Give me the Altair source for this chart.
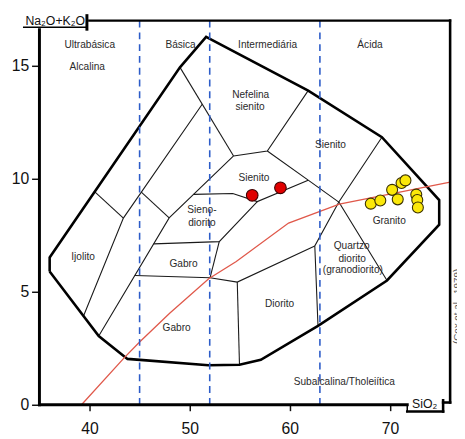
import altair as alt
import pandas as pd

FONT = "Liberation Sans"

x_ticks = [40, 50, 60, 70]
y_ticks = [0, 5, 10, 15]

# Outer (thick) boundary of the TAS field
outer_x = [36.02, 36.02, 49.03, 51.64, 61.83, 69.19, 74.91, 74.91, 69.70, 62.81, 57.10, 54.97, 51.87, 43.79, 40.92, 36.02]
outer_y = [5.90, 6.52, 14.93, 16.28, 13.90, 11.84, 9.06, 7.97, 5.50, 3.49, 1.99, 1.77, 1.75, 2.03, 3.04, 5.90]

# Internal field boundaries (polylines)
seg_x = [
    [40.53, 43.38],
    [39.40, 43.38, 51.25],
    [45.17, 47.95],
    [40.92, 47.95, 54.38],
    [49.03, 54.38],
    [54.38, 57.75, 61.83],
    [57.75, 61.83, 64.89],
    [69.19, 64.89, 69.70],
    [64.89, 62.49, 62.81],
    [50.40, 54.30, 56.75, 61.83],
    [46.40, 52.95, 56.75],
    [52.95, 52.03],
    [44.52, 52.03, 54.75, 62.49],
    [54.75, 54.97],
]
seg_y = [
    [9.42, 8.26],
    [3.93, 8.26, 13.30],
    [9.41, 8.27],
    [3.04, 8.27, 11.01],
    [14.93, 11.01],
    [11.01, 11.23, 13.90],
    [11.23, 9.94, 8.97],
    [11.84, 8.97, 5.50],
    [8.97, 7.03, 3.49],
    [9.31, 9.35, 8.99, 9.94],
    [7.12, 7.22, 8.99],
    [7.22, 5.62],
    [5.72, 5.62, 5.43, 7.03],
    [5.43, 1.77],
]

# Alkaline / subalkaline divide (red)
red_x = [39.2, 43.5, 45.0, 48.0, 51.9, 54.65, 59.87, 64.94, 76.0]
red_y = [0.0, 2.1, 2.78, 4.05, 5.58, 6.34, 8.04, 8.88, 9.85]

# SiO2 class limits (blue dashed)
silica_limits = [45, 52, 63]

# Samples
yellow_x = [68.08, 69.03, 70.21, 70.77, 71.15, 71.54, 72.62, 72.72, 72.78]
yellow_y = [8.90, 9.04, 9.51, 9.09, 9.81, 9.93, 9.30, 9.06, 8.73]
red_pts_x = [56.24, 59.06]
red_pts_y = [9.27, 9.60]

# Field labels
label_text = ["Ultrabásica", "Alcalina", "Básica", "Intermediária", "Ácida",
              "Nefelina", "sienito", "Sienito", "Sienito", "Sieno-", "diorito",
              "Gabro", "Gabro", "Ijolito", "Diorito", "Quartzo", "diorito",
              "(granodiorito)", "Granito", "Subalcalina/Tholeiítica"]
label_x = [40.02, 39.77, 49.09, 57.78, 68.0,
           56.09, 56.02, 64.06, 56.41, 51.22, 51.22,
           49.38, 48.70, 39.35, 58.98, 66.17, 66.22,
           66.29, 69.92, 65.43]
label_y = [15.94, 14.96, 15.94, 15.94, 15.94,
           13.70, 13.19, 11.48, 10.04, 8.62, 8.04,
           6.23, 3.40, 6.55, 4.46, 7.03, 6.45,
           5.94, 8.11, 1.01]

XS = alt.Scale(domain=[35, 76], nice=False, zero=False)
YS = alt.Scale(domain=[0, 17], nice=False, zero=False)

xax = alt.Axis(values=x_ticks, title=None, domain=False, grid=False, labelFont=FONT,
               labelFontSize=16, labelColor="#111", tickColor="#111", tickWidth=1.5,
               tickSize=6, labelPadding=10)
yax = alt.Axis(values=y_ticks, title=None, domain=False, grid=False, labelFont=FONT,
               labelFontSize=16, labelColor="#111", tickColor="#111", tickWidth=1.5,
               tickSize=8, labelPadding=3)

outer_df = pd.DataFrame({"x": outer_x, "y": outer_y, "i": range(len(outer_x))})
rows = []
for k, (sx, sy) in enumerate(zip(seg_x, seg_y)):
    for i, (a, b) in enumerate(zip(sx, sy)):
        rows.append({"x": a, "y": b, "s": k, "i": i})
seg_df = pd.DataFrame(rows)
red_df = pd.DataFrame({"x": red_x, "y": red_y, "i": range(len(red_x))})
dash_df = pd.DataFrame({"x": silica_limits, "y": [0] * 3, "y2": [17] * 3})
lab_df = pd.DataFrame({"x": label_x, "y": label_y, "t": label_text})
yel_df = pd.DataFrame({"x": yellow_x, "y": yellow_y})
rp_df = pd.DataFrame({"x": red_pts_x, "y": red_pts_y})

base_enc = dict(x=alt.X("x:Q", scale=XS, axis=xax), y=alt.Y("y:Q", scale=YS, axis=yax))

dashes = alt.Chart(dash_df).mark_rule(color="#2c5cc8", strokeWidth=1.6, strokeDash=[7, 5]).encode(
    x=alt.X("x:Q", scale=XS, axis=xax), y=alt.Y("y:Q", scale=YS, axis=yax), y2="y2:Q")

inner = alt.Chart(seg_df).mark_line(color="#1a1a1a", strokeWidth=1.1).encode(
    **base_enc, detail="s:N", order="i:Q")

outer = alt.Chart(outer_df).mark_line(color="#000", strokeWidth=2.6, strokeJoin="miter").encode(
    **base_enc, order="i:Q")

redline = alt.Chart(red_df).mark_line(color="#e0584a", strokeWidth=1.3).encode(
    **base_enc, order="i:Q")

labels = alt.Chart(lab_df).mark_text(font=FONT, fontSize=10.3, color="#2a2a2a").encode(
    **base_enc, text="t:N")

yel = alt.Chart(yel_df).mark_circle(size=125, color="#fbe80a", stroke="#3a3000",
                                     strokeWidth=1.1, opacity=1).encode(**base_enc)
redp = alt.Chart(rp_df).mark_circle(size=140, color="#e00000", stroke="#400000",
                                     strokeWidth=1.1, opacity=1).encode(**base_enc)

# Frame lines and axis-title boxes (positions in data units of the frame)
frame_df = pd.DataFrame({
    "x": [39.97, 76.0, 35.0, 35.0, 33.43, 39.74, 71.72, 71.72, 75.3, 75.3],
    "x2": [76.0, 76.0, 35.0, 71.72, 39.74, 39.74, 71.72, 75.3, 75.3, 76.0],
    "y": [17.0, 17.0, 16.6, 0.0, 16.71, 17.22, 0.0, -0.3, -0.3, 0.1],
    "y2": [17.0, 0.1, 0.0, 0.0, 16.71, 16.62, -0.3, -0.3, 0.2, 0.1],
    "w": [2.2, 2.6, 3.0, 3.0, 1.5, 3.0, 1.5, 2.6, 2.6, 2.6],
})
frame = alt.Chart(frame_df).mark_rule(color="#000", strokeCap="square").encode(
    x=alt.X("x:Q", scale=XS, axis=xax), x2="x2:Q",
    y=alt.Y("y:Q", scale=YS, axis=yax), y2="y2:Q",
    strokeWidth=alt.StrokeWidth("w:Q", scale=None))

title_df = pd.DataFrame({"x": [33.6, 72.2], "y": [16.80, -0.16], "t": ["Na₂O+K₂O", "SiO₂"]})
titles = alt.Chart(title_df).mark_text(font=FONT, fontSize=12.5, color="#111", align="left",
                                       baseline="alphabetic").encode(**base_enc, text="t:N")

cox_df = pd.DataFrame({"x": [76.2], "y": [4.35], "t": ["(Cox et al., 1979)"]})
cox = alt.Chart(cox_df).mark_text(font=FONT, fontSize=10, color="#555", angle=270,
                                  align="center", baseline="top").encode(**base_enc, text="t:N")

chart = alt.layer(inner, outer, redline, dashes, labels, frame, titles, cox, yel, redp).properties(
    width=418, height=391,
    autosize=alt.AutoSizeParams(type="none"),
    padding={"left": 32, "top": 9, "right": 7, "bottom": 31},
    background="white",
).configure_view(strokeWidth=0)

chart.save("out.html", embed_options={"renderer": "svg", "actions": False})
